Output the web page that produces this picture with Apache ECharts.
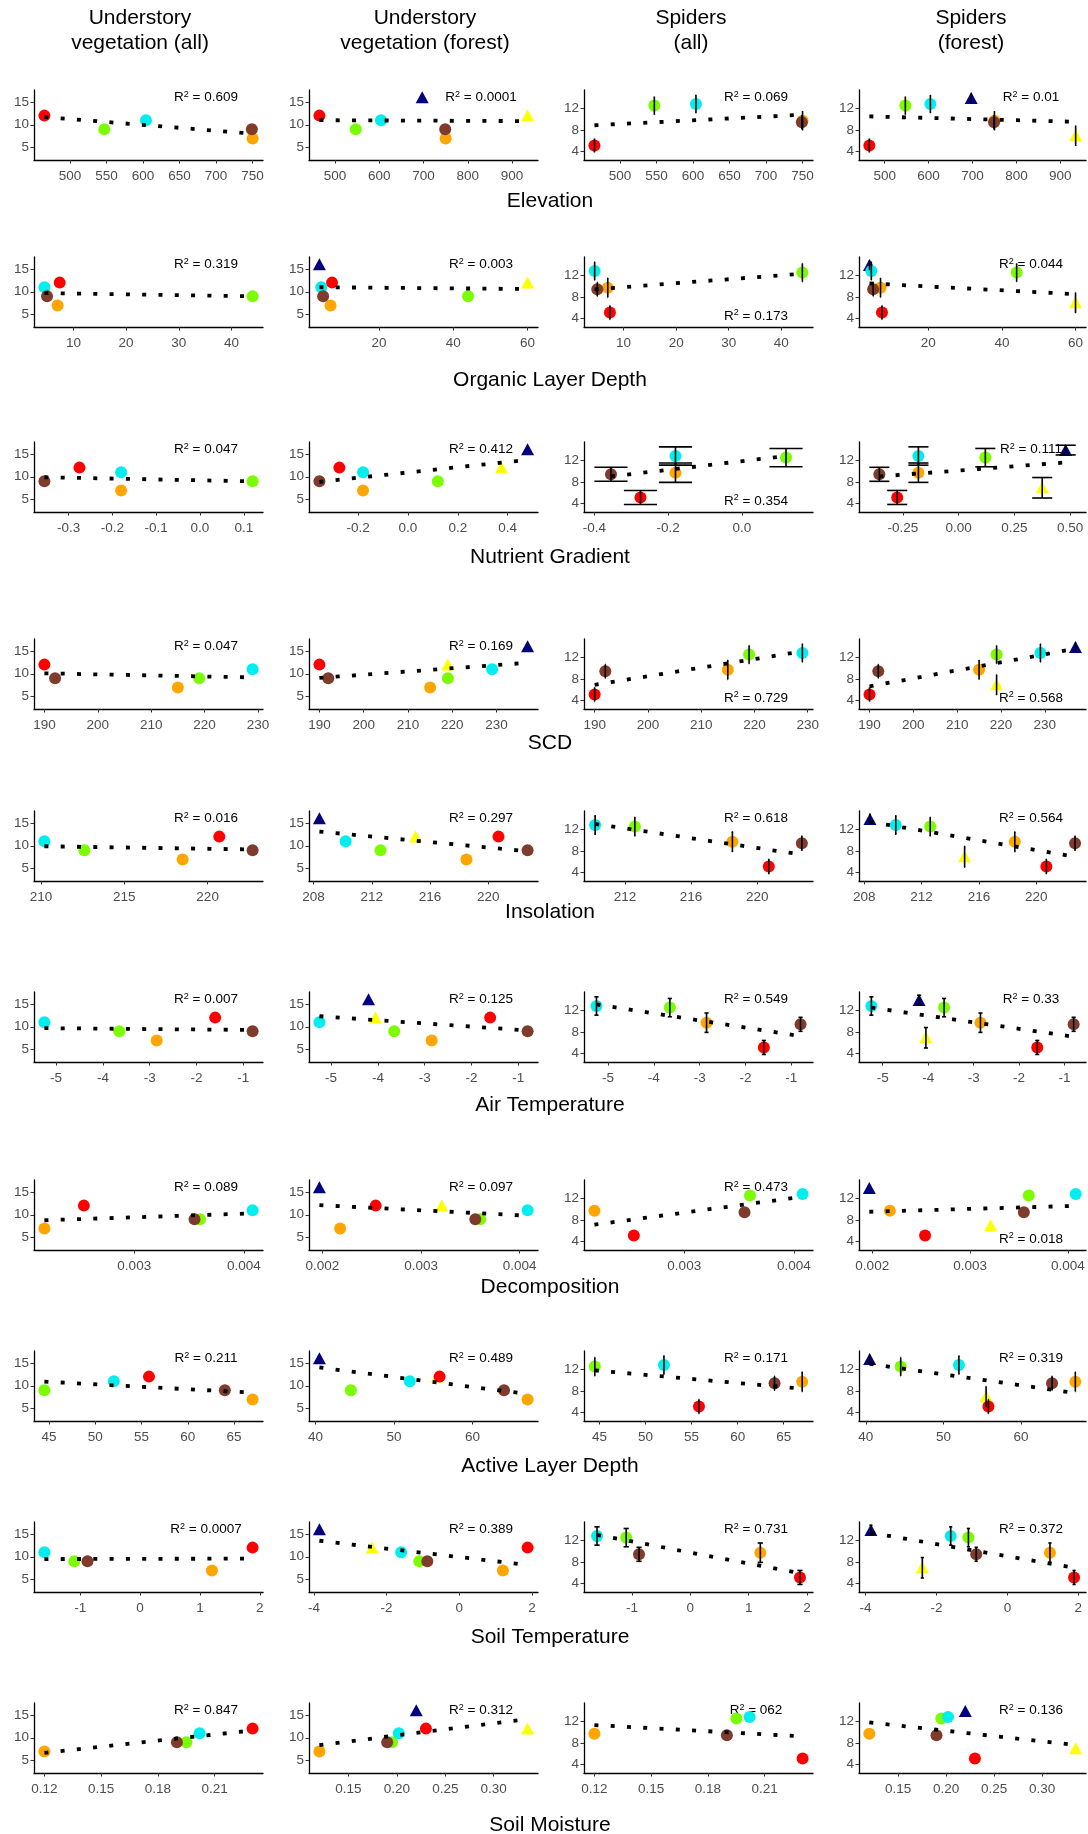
<!DOCTYPE html>
<html>
<head>
<meta charset="utf-8">
<script src="https://cdn.jsdelivr.net/npm/echarts@6/dist/echarts.min.js"></script>
<style>
  html, body { margin: 0; padding: 0; background: #fff; }
  #main { width: 1088px; height: 1834px; }
</style>
</head>
<body>
<div id="main"></div>
<script>
// site order: red, green, cyan, orange, brown, yellow (forest only), navy (forest only)
const siteColors = ['#FF0000', '#7CFC00', '#00EEEE', '#FFA500', '#7F3B2C', '#FFFF00', '#000080'];
const siteShapes = ['circle', 'circle', 'circle', 'circle', 'circle', 'triangle', 'triangle'];

const understory = [12, 9, 11, 7, 9, 12, 16];
const spiders = [5.1, 12.5, 12.8, 9.7, 9.4, 7.0, 13.9];
const spiderLow = [3.8, 10.8, 11.1, 7.9, 8.1, 5.0, 13.0];
const spiderHigh = [6.4, 14.2, 14.5, 11.5, 10.7, 8.8, 14.8];

const headers = ['Understory\nvegetation (all)', 'Understory\nvegetation (forest)', 'Spiders\n(all)', 'Spiders\n(forest)'];
const understoryTicks = [5, 10, 15];
const spiderTicks = [4, 8, 12];

// x values per site
const elevation = [465, 547, 604, 750, 749, 935, 697];
const organic = [7.4, 44, 4.5, 7, 5, 60, 4];
const nutrient = [-0.275, 0.12, -0.18, -0.18, -0.355, 0.375, 0.48];
const scd = [190, 219, 229, 215, 192, 219, 237];
const insolation = [220.7, 212.6, 210.2, 218.5, 222.7, 215.0, 208.4];
const airTemp = [-1.6, -3.65, -5.25, -2.85, -0.8, -4.05, -4.2];
const decomposition = [0.00254, 0.0036, 0.00408, 0.00218, 0.00355, 0.00321, 0.00197];
const activeLayer = [55.8, 44.5, 52, 67, 64, 55.5, 40.5];
const soilTemp = [1.88, -1.1, -1.6, 1.2, -0.88, -2.4, -3.85];
const soilMoisture = [0.23, 0.195, 0.202, 0.12, 0.19, 0.335, 0.22];

// x tick values per column
const elevationTicks = [[500, 550, 600, 650, 700, 750], [500, 600, 700, 800, 900], [500, 550, 600, 650, 700, 750], [500, 600, 700, 800, 900]];
const organicTicks = [[10, 20, 30, 40], [20, 40, 60], [10, 20, 30, 40], [20, 40, 60]];
const nutrientTicks = [[-0.3, -0.2, -0.1, 0, 0.1], [-0.2, 0, 0.2, 0.4], [-0.4, -0.2, 0, 0.2], [-0.25, 0, 0.25, 0.5]];
const scdTicks = [[190, 200, 210, 220, 230], [190, 200, 210, 220, 230], [190, 200, 210, 220, 230], [190, 200, 210, 220, 230]];
const insolationTicks = [[210, 215, 220], [208, 212, 216, 220], [212, 216, 220], [208, 212, 216, 220]];
const airTempTicks = [[-5, -4, -3, -2, -1], [-5, -4, -3, -2, -1], [-5, -4, -3, -2, -1], [-5, -4, -3, -2, -1]];
const decompositionTicks = [[0.003, 0.004], [0.002, 0.003, 0.004], [0.003, 0.004], [0.002, 0.003, 0.004]];
const activeLayerTicks = [[45, 50, 55, 60, 65], [40, 50, 60], [45, 50, 55, 60, 65], [40, 50, 60]];
const soilTempTicks = [[-1, 0, 1, 2], [-4, -2, 0, 2], [-1, 0, 1, 2], [-4, -2, 0, 2]];
const soilMoistureTicks = [[0.12, 0.15, 0.18, 0.21], [0.15, 0.2, 0.25, 0.3], [0.12, 0.15, 0.18, 0.21], [0.15, 0.2, 0.25, 0.3]];

// fitted lines: [x0, y0, x1, y1] per column
const elevationTrend = [[465, 11.7, 750, 8.05], [465, 11.0, 935, 10.8], [465, 8.85, 750, 10.8], [465, 10.5, 935, 9.5]];
const organicTrend = [[4.5, 9.7, 44, 9.0], [4, 11.0, 60, 10.6], [4.5, 9.4, 44, 12.3], [4, 10.5, 60, 8.5]];
const nutrientTrend = [[-0.355, 9.9, 0.12, 9.0], [-0.355, 8.9, 0.48, 13.7], [-0.355, 9.0, 0.12, 12.8], [-0.355, 9.0, 0.48, 11.6]];
const scdTrend = [[190, 10.1, 229, 9.2], [190, 9.1, 237, 12.4], [190, 6.9, 229, 13.1], [190, 6.6, 237, 13.6]];
const insolationTrend = [[210.2, 9.9, 222.7, 9.2], [208.4, 13.1, 222.7, 8.8], [210.2, 13.0, 222.7, 7.3], [208.4, 13.4, 222.7, 6.9]];
const airTempTrend = [[-5.25, 9.7, -0.8, 9.3], [-5.25, 12.3, -0.8, 9.2], [-5.25, 13.1, -0.8, 7.2], [-5.25, 12.5, -0.8, 7.1]];
const decompositionTrend = [[0.00218, 8.8, 0.00408, 10.3], [0.00197, 12.1, 0.00408, 9.8], [0.00218, 7.1, 0.00408, 12.3], [0.00197, 9.5, 0.00408, 10.6]];
const activeLayerTrend = [[44.5, 10.9, 67, 8.5], [40.5, 14.0, 67, 8.2], [44.5, 11.8, 67, 8.4], [40.5, 13.0, 67, 7.6]];
const soilTempTrend = [[-1.6, 9.5, 1.88, 9.6], [-3.85, 13.5, 1.88, 8.2], [-1.6, 13.0, 1.88, 5.9], [-3.85, 13.4, 1.88, 6.9]];
const soilMoistureTrend = [[0.12, 6.7, 0.23, 11.6], [0.12, 8.4, 0.335, 14.1], [0.12, 11.3, 0.23, 9.2], [0.12, 11.8, 0.335, 7.6]];

// R squared per column, and whether the label sits at the top (t) or bottom (b)
const elevationR2 = ['0.609', '0.0001', '0.069', '0.01'];
const organicR2 = ['0.319', '0.003', '0.173', '0.044'];
const nutrientR2 = ['0.047', '0.412', '0.354', '0.111'];
const scdR2 = ['0.047', '0.169', '0.729', '0.568'];
const insolationR2 = ['0.016', '0.297', '0.618', '0.564'];
const airTempR2 = ['0.007', '0.125', '0.549', '0.33'];
const decompositionR2 = ['0.089', '0.097', '0.473', '0.018'];
const activeLayerR2 = ['0.211', '0.489', '0.171', '0.319'];
const soilTempR2 = ['0.0007', '0.389', '0.731', '0.372'];
const soilMoistureR2 = ['0.847', '0.312', '062', '0.136'];

const rows = [
  { name: 'Elevation', x: elevation, ticks: elevationTicks, dec: [0, 0, 0, 0], trend: elevationTrend, r2: elevationR2, r2pos: 'tttt', bars: true },
  { name: 'Organic Layer Depth', x: organic, ticks: organicTicks, dec: [0, 0, 0, 0], trend: organicTrend, r2: organicR2, r2pos: 'ttbt', bars: true },
  { name: 'Nutrient Gradient', x: nutrient, ticks: nutrientTicks, dec: [1, 1, 1, 2], trend: nutrientTrend, r2: nutrientR2, r2pos: 'ttbt', bars: true },
  { name: 'SCD', x: scd, ticks: scdTicks, dec: [0, 0, 0, 0], trend: scdTrend, r2: scdR2, r2pos: 'ttbb', bars: true },
  { name: 'Insolation', x: insolation, ticks: insolationTicks, dec: [0, 0, 0, 0], trend: insolationTrend, r2: insolationR2, r2pos: 'tttt', bars: true },
  { name: 'Air Temperature', x: airTemp, ticks: airTempTicks, dec: [0, 0, 0, 0], trend: airTempTrend, r2: airTempR2, r2pos: 'tttt', bars: true },
  { name: 'Decomposition', x: decomposition, ticks: decompositionTicks, dec: [3, 3, 3, 3], trend: decompositionTrend, r2: decompositionR2, r2pos: 'tttb', bars: false },
  { name: 'Active Layer Depth', x: activeLayer, ticks: activeLayerTicks, dec: [0, 0, 0, 0], trend: activeLayerTrend, r2: activeLayerR2, r2pos: 'tttt', bars: true },
  { name: 'Soil Temperature', x: soilTemp, ticks: soilTempTicks, dec: [0, 0, 0, 0], trend: soilTempTrend, r2: soilTempR2, r2pos: 'tttt', bars: true },
  { name: 'Soil Moisture', x: soilMoisture, ticks: soilMoistureTicks, dec: [2, 2, 2, 2], trend: soilMoistureTrend, r2: soilMoistureR2, r2pos: 'tttt', bars: false }
];

// layout
const colLeft = [34, 309, 584, 859];
const colWidth = [229, 229, 229, 227];
const rowTop = [90, 257, 442, 639, 811, 992, 1180, 1351, 1522, 1703];
const panelHeight = 70;
const titleY = [201, 380, 557, 743, 912, 1105, 1287, 1466, 1637, 1825];
const headerX = [140, 425, 691, 971];
const capHalf = 0.045;
const font = '"Liberation Sans", Arial, sans-serif';

const chart = echarts.init(document.getElementById('main'));

const grid = [], xAxis = [], yAxis = [], series = [], graphic = [];

function axisStyle(ticks, dec) {
  return {
    axisLine: { show: true, onZero: false, lineStyle: { color: '#000', width: 1.3 } },
    axisTick: { show: true, length: 3.5, customValues: ticks, lineStyle: { color: '#333', width: 1 } },
    axisLabel: { show: true, customValues: ticks, color: '#4D4D4D', fontSize: 13.5, fontFamily: font, formatter: v => v.toFixed(dec) },
    splitLine: { show: false }
  };
}

rows.forEach((row, r) => {
  for (let c = 0; c < 4; c++) {
    const idx = r * 4 + c;
    const forest = c === 1 || c === 3;
    const isSpider = c >= 2;
    const sites = forest ? [5, 6, 0, 1, 2, 3, 4] : [0, 1, 2, 3, 4];
    const ys = isSpider ? spiders : understory;
    const cap = isSpider && row.bars ? capHalf : 0;
    const xs = sites.map(i => row.x[i]);
    const lo = Math.min(...xs) - cap, hi = Math.max(...xs) + cap;
    const pad = (hi - lo) * 0.05;

    grid.push({ left: colLeft[c], top: rowTop[r], width: colWidth[c], height: panelHeight });
    xAxis.push(Object.assign({ gridIndex: idx, type: 'value', min: lo - pad, max: hi + pad }, axisStyle(row.ticks[c], row.dec[c])));
    xAxis[idx].axisLabel.margin = 9;
    const yr = isSpider ? [2.4, 15.4] : [2.3, 17.6];
    yAxis.push(Object.assign({ gridIndex: idx, type: 'value', min: yr[0], max: yr[1] }, axisStyle(isSpider ? spiderTicks : understoryTicks, 0)));
    yAxis[idx].axisLabel.margin = 5;

    series.push({
      type: 'scatter', xAxisIndex: idx, yAxisIndex: idx, z: 2, silent: true,
      data: sites.map(i => ({
        value: [row.x[i], ys[i]],
        symbol: siteShapes[i],
        symbolSize: siteShapes[i] === 'triangle' ? [13, 12] : 12,
        itemStyle: { color: siteColors[i], opacity: 1 }
      }))
    });

    if (isSpider && row.bars) {
      series.push({
        type: 'custom', xAxisIndex: idx, yAxisIndex: idx, z: 3, silent: true,
        encode: { x: 0, y: [1, 2] },
        data: sites.map(i => [row.x[i], spiderLow[i], spiderHigh[i], capHalf]),
        renderItem: (params, api) => {
          const x = api.value(0), l = api.value(1), h = api.value(2), w = api.value(3);
          const t = api.coord([x, h]), b = api.coord([x, l]);
          const tl = api.coord([x - w, h]), tr = api.coord([x + w, h]);
          const bl = api.coord([x - w, l]), br = api.coord([x + w, l]);
          const style = { stroke: '#000', lineWidth: 1.6 };
          return {
            type: 'group', children: [
              { type: 'line', shape: { x1: t[0], y1: t[1], x2: b[0], y2: b[1] }, style },
              { type: 'line', shape: { x1: tl[0], y1: tl[1], x2: tr[0], y2: tr[1] }, style },
              { type: 'line', shape: { x1: bl[0], y1: bl[1], x2: br[0], y2: br[1] }, style }
            ]
          };
        }
      });
    }

    const tr = row.trend[c];
    series.push({
      type: 'line', xAxisIndex: idx, yAxisIndex: idx, z: 4, silent: true,
      symbol: 'none', showSymbol: false,
      lineStyle: { color: '#000', width: 3.8, type: [4, 12.3], cap: 'butt' },
      data: [[tr[0], tr[1]], [tr[2], tr[3]]]
    });

    const ry = row.r2pos[c] === 't' ? rowTop[r] + 7.5 : rowTop[r] + panelHeight - 11;
    graphic.push({
      type: 'text', z: 0, silent: true,
      x: colLeft[c] + 172, y: ry,
      style: {
        text: '{r|R}{s|2}{r| = ' + row.r2[c] + '}',
        align: 'center', verticalAlign: 'middle',
        rich: {
          r: { fontSize: 13.5, fontFamily: font, fill: '#000', lineHeight: 15 },
          s: { fontSize: 9, fontFamily: font, fill: '#000', verticalAlign: 'top', lineHeight: 9 }
        }
      }
    });
  }

  graphic.push({
    type: 'text', silent: true, x: 550, y: titleY[r],
    style: { text: row.name, font: '21px ' + font, fill: '#000', align: 'center', verticalAlign: 'middle' }
  });
});

headers.forEach((h, i) => {
  graphic.push({
    type: 'text', silent: true, x: headerX[i], y: 30.5,
    style: { text: h, font: '21px ' + font, fill: '#000', align: 'center', verticalAlign: 'middle', lineHeight: 25 }
  });
});

chart.setOption({
  animation: false,
  backgroundColor: '#fff',
  textStyle: { fontFamily: font },
  grid, xAxis, yAxis, series, graphic
});
</script>
</body>
</html>
